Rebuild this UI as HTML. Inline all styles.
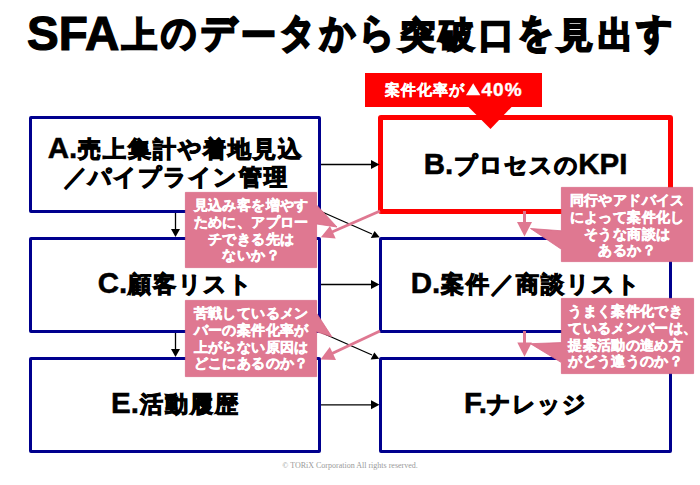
<!DOCTYPE html>
<html lang="ja">
<head>
<meta charset="utf-8">
<style>
html,body{margin:0;padding:0;background:#fff;}
body{width:700px;height:485px;position:relative;overflow:hidden;font-family:"Liberation Sans",sans-serif;color:#000;}
i{font-style:normal;display:inline-block;text-align:center;}
.title{position:absolute;left:27px;top:6px;white-space:nowrap;font-weight:bold;font-size:35px;line-height:56px;-webkit-text-stroke:2.2px #000;}
.title .lat{font-size:47.5px;-webkit-text-stroke:1.2px #000;}
.title i{position:relative;top:-3.5px;}
.title i.k{transform:scaleY(1.12);transform-origin:50% 45px;}
.box{position:absolute;box-sizing:border-box;border:3px solid #00008e;border-radius:2px;background:#fff;}
.boxB{border:5px solid #ff0000;border-radius:3px;}
.lbl{position:absolute;text-align:center;font-weight:bold;font-size:23px;white-space:nowrap;-webkit-text-stroke:1.1px #000;}

.lbl i{position:relative;top:-1.5px;}
.lbl .lat{font-size:29.5px;-webkit-text-stroke:0.5px #000;}
.call{position:absolute;box-sizing:border-box;border:1px solid transparent;color:#fff;font-weight:bold;font-size:14px;line-height:16.6px;text-align:center;white-space:nowrap;padding-top:4.4px;-webkit-text-stroke:0.5px #fff;}
.banner{position:absolute;left:365px;top:73px;width:177px;height:34px;background:#ff0000;color:#fff;font-weight:bold;font-size:15px;line-height:34px;text-align:center;white-space:nowrap;-webkit-text-stroke:0.6px #fff;}
.bant{position:absolute;color:#fff;font-weight:bold;font-size:15px;line-height:34px;white-space:nowrap;-webkit-text-stroke:0.35px #fff;}
.bant .lat{font-size:19px;letter-spacing:1px;-webkit-text-stroke:0.4px #fff;}
.copy{position:absolute;left:0;width:700px;top:461px;text-align:center;font-family:"Liberation Serif",serif;font-size:8px;color:#9a9a9a;white-space:nowrap;}
svg{position:absolute;left:0;top:0;}
</style>
</head>
<body>
<div class="title" id="title"><span class="lat">SFA</span><i style="width:39.7px">上</i><i class="k" style="width:39.7px">の</i><i class="k" style="width:39.7px">デ</i><i style="width:39.7px">ー</i><i class="k" style="width:39.7px">タ</i><i class="k" style="width:39.7px">か</i><i class="k" style="width:39.7px">ら</i><i style="width:39.7px">突</i><i style="width:39.7px">破</i><i style="width:39.7px">口</i><i class="k" style="width:39.7px">を</i><i style="width:39.7px">見</i><i style="width:39.7px">出</i><i class="k" style="width:39.7px">す</i></div>

<div class="box" style="left:29px;top:116px;width:292px;height:97px;"></div>
<div class="box boxB" style="left:378px;top:115px;width:295px;height:99px;"></div>
<div class="box" style="left:29px;top:237px;width:292px;height:96px;"></div>
<div class="box" style="left:379px;top:237px;width:293px;height:96px;"></div>
<div class="box" style="left:29px;top:357px;width:292px;height:96px;"></div>
<div class="box" style="left:379px;top:357px;width:293px;height:96px;"></div>

<div class="lbl" id="la" style="left:29px;width:292px;top:134px;line-height:28px;"><span class="lat">A.</span><i style="width:25px">売</i><i style="width:25px">上</i><i style="width:25px">集</i><i style="width:25px">計</i><i class="k" style="width:25px">や</i><i style="width:25px">着</i><i style="width:25px">地</i><i style="width:25px">見</i><i style="width:25px">込</i><br><i style="width:25px">／</i><i class="k" style="width:25px">パ</i><i class="k" style="width:25px">イ</i><i class="k" style="width:25px">プ</i><i class="k" style="width:25px">ラ</i><i class="k" style="width:25px">イ</i><i class="k" style="width:25px">ン</i><i style="width:25px">管</i><i style="width:25px">理</i></div>
<div class="lbl" id="lb" style="left:378px;width:295px;top:148px;line-height:32px;"><span class="lat">B.</span><i class="k" style="width:25px">プ</i><i class="k" style="width:25px">ロ</i><i class="k" style="width:25px">セ</i><i class="k" style="width:25px">ス</i><i class="k" style="width:25px">の</i><span class="lat">KPI</span></div>
<div class="lbl" id="lc" style="left:29px;width:292px;top:267px;line-height:32px;"><span class="lat">C.</span><i style="width:25px">顧</i><i style="width:25px">客</i><i class="k" style="width:25px">リ</i><i class="k" style="width:25px">ス</i><i class="k" style="width:25px">ト</i></div>
<div class="lbl" id="ld" style="left:379px;width:293px;top:267px;line-height:32px;"><span class="lat">D.</span><i style="width:25px">案</i><i style="width:25px">件</i><i style="width:25px">／</i><i style="width:25px">商</i><i style="width:25px">談</i><i class="k" style="width:25px">リ</i><i class="k" style="width:25px">ス</i><i class="k" style="width:25px">ト</i></div>
<div class="lbl" id="le" style="left:29px;width:292px;top:387px;line-height:32px;"><span class="lat">E.</span><i style="width:25px">活</i><i style="width:25px">動</i><i style="width:25px">履</i><i style="width:25px">歴</i></div>
<div class="lbl" id="lf" style="left:379px;width:293px;top:387px;line-height:32px;"><span class="lat">F.</span><i class="k" style="width:25px">ナ</i><i class="k" style="width:25px">レ</i><i class="k" style="width:25px">ッ</i><i class="k" style="width:25px">ジ</i></div>

<svg width="700" height="485" viewBox="0 0 700 485">
  <g stroke="#000" stroke-width="1.3" fill="none">
    <line x1="321" y1="164.5" x2="372" y2="164.5"/>
    <line x1="321" y1="284.5" x2="372" y2="284.5"/>
    <line x1="321" y1="404.8" x2="372" y2="404.8"/>
    <line x1="175.5" y1="213" x2="175.5" y2="230"/>
    <line x1="175.5" y1="333" x2="175.5" y2="350"/>
    <line x1="320" y1="211" x2="372" y2="234"/>
    <line x1="320" y1="332" x2="372" y2="355"/>
  </g>
  <g fill="#000">
    <polygon points="371,160 379.5,164.5 371,169"/>
    <polygon points="371,280 379.5,284.5 371,289"/>
    <polygon points="371,400.3 379.5,404.8 371,409.3"/>
    <polygon points="171,229 180,229 175.5,237"/>
    <polygon points="171,349 180,349 175.5,357"/>
    <polygon points="370.8,238 374.6,231 379.7,237.3"/>
    <polygon points="370.6,359.4 374.3,352.6 379.2,358.8"/>
  </g>
</svg>

<div class="banner" id="ban"></div>
<svg width="700" height="485" viewBox="0 0 700 485">
  <polygon points="467.5,106 512.5,106 490.5,129" fill="#ff0000"/>
  <polygon points="466,95.2 480.4,95.2 473.2,83.2" fill="#fff"/>
</svg>
<div class="bant" id="bant" style="left:384px;top:73px;"><i style="width:16.2px">案</i><i style="width:16.2px">件</i><i style="width:16.2px">化</i><i style="width:16.2px">率</i><i class="k" style="width:16.2px">が</i></div>
<div class="bant" id="ban40" style="left:481.5px;top:73px;"><span class="lat">40%</span></div>

<svg width="700" height="485" viewBox="0 0 700 485">
  <g stroke="#df7891" stroke-width="3" fill="none">
    <line x1="380" y1="211" x2="332" y2="232"/>
    <line x1="380" y1="331" x2="331" y2="354"/>
    <line x1="524.5" y1="211" x2="524.5" y2="223"/>
    <line x1="524.5" y1="331" x2="524.5" y2="343"/>
  </g>
  <g fill="#df7891">
    <polygon points="330,226 335.7,238.4 320.9,237.3"/>
    <polygon points="329.8,347 336,360 320.5,359.4"/>
    <polygon points="517,222 532,222 524.5,236.5"/>
    <polygon points="517.3,342.5 531.8,342.5 524.5,356.8"/>
  </g>
  <g fill="#df7891" stroke="#d86a86" stroke-width="0.8" stroke-linejoin="miter">
    <path d="M185.4,192.4 H316.6 V205 L337,227 L316.6,224 V267.6 H185.4 Z"/>
    <path d="M185.4,300.4 H316.6 V313.2 L331.9,336.8 L316.6,331.8 V376.6 H185.4 Z"/>
    <path d="M561.4,187.4 H692.6 V261.6 H561.4 V249.3 L530.5,228.5 L561.4,230.8 Z"/>
    <path d="M561.4,298.4 H693.6 V373.6 H561.4 V362.6 L530.4,343.7 L561.4,342.6 Z"/>
  </g>
</svg>

<div class="call" id="c1" style="left:185px;top:192px;width:132px;height:76px;"><i style="width:14.35px">見</i><i style="width:14.35px">込</i><i class="k" style="width:14.35px">み</i><i style="width:14.35px">客</i><i class="k" style="width:14.35px">を</i><i style="width:14.35px">増</i><i class="k" style="width:14.35px">や</i><i class="k" style="width:14.35px">す</i><br><i class="k" style="width:14.35px">た</i><i class="k" style="width:14.35px">め</i><i class="k" style="width:14.35px">に</i><i style="width:14.35px">、</i><i class="k" style="width:14.35px">ア</i><i class="k" style="width:14.35px">プ</i><i class="k" style="width:14.35px">ロ</i><i style="width:14.35px">ー</i><br><i class="k" style="width:14.35px">チ</i><i class="k" style="width:14.35px">で</i><i class="k" style="width:14.35px">き</i><i class="k" style="width:14.35px">る</i><i style="width:14.35px">先</i><i class="k" style="width:14.35px">は</i><br><i class="k" style="width:14.35px">な</i><i class="k" style="width:14.35px">い</i><i class="k" style="width:14.35px">か</i><i style="width:14.35px">？</i></div>
<div class="call" id="c2" style="left:185px;top:300px;width:132px;height:77px;"><i style="width:14.35px">苦</i><i style="width:14.35px">戦</i><i class="k" style="width:14.35px">し</i><i class="k" style="width:14.35px">て</i><i class="k" style="width:14.35px">い</i><i class="k" style="width:14.35px">る</i><i class="k" style="width:14.35px">メ</i><i class="k" style="width:14.35px">ン</i><br><i class="k" style="width:14.35px">バ</i><i style="width:14.35px">ー</i><i class="k" style="width:14.35px">の</i><i style="width:14.35px">案</i><i style="width:14.35px">件</i><i style="width:14.35px">化</i><i style="width:14.35px">率</i><i class="k" style="width:14.35px">が</i><br><i style="width:14.35px">上</i><i class="k" style="width:14.35px">が</i><i class="k" style="width:14.35px">ら</i><i class="k" style="width:14.35px">な</i><i class="k" style="width:14.35px">い</i><i style="width:14.35px">原</i><i style="width:14.35px">因</i><i class="k" style="width:14.35px">は</i><br><i class="k" style="width:14.35px">ど</i><i class="k" style="width:14.35px">こ</i><i class="k" style="width:14.35px">に</i><i class="k" style="width:14.35px">あ</i><i class="k" style="width:14.35px">る</i><i class="k" style="width:14.35px">の</i><i class="k" style="width:14.35px">か</i><i style="width:14.35px">？</i></div>
<div class="call" id="c3" style="left:561px;top:187px;width:132px;height:75px;"><i style="width:14.35px">同</i><i style="width:14.35px">行</i><i class="k" style="width:14.35px">や</i><i class="k" style="width:14.35px">ア</i><i class="k" style="width:14.35px">ド</i><i class="k" style="width:14.35px">バ</i><i class="k" style="width:14.35px">イ</i><i class="k" style="width:14.35px">ス</i><br><i class="k" style="width:14.35px">に</i><i class="k" style="width:14.35px">よ</i><i class="k" style="width:14.35px">っ</i><i class="k" style="width:14.35px">て</i><i style="width:14.35px">案</i><i style="width:14.35px">件</i><i style="width:14.35px">化</i><i class="k" style="width:14.35px">し</i><br><i class="k" style="width:14.35px">そ</i><i class="k" style="width:14.35px">う</i><i class="k" style="width:14.35px">な</i><i style="width:14.35px">商</i><i style="width:14.35px">談</i><i class="k" style="width:14.35px">は</i><br><i class="k" style="width:14.35px">あ</i><i class="k" style="width:14.35px">る</i><i class="k" style="width:14.35px">か</i><i style="width:14.35px">？</i></div>
<div class="call" id="c4" style="left:561px;top:298px;width:133px;height:76px;text-align:left;padding-left:6px;"><i class="k" style="width:14.35px">う</i><i class="k" style="width:14.35px">ま</i><i class="k" style="width:14.35px">く</i><i style="width:14.35px">案</i><i style="width:14.35px">件</i><i style="width:14.35px">化</i><i class="k" style="width:14.35px">で</i><i class="k" style="width:14.35px">き</i><br><i class="k" style="width:14.35px">て</i><i class="k" style="width:14.35px">い</i><i class="k" style="width:14.35px">る</i><i class="k" style="width:14.35px">メ</i><i class="k" style="width:14.35px">ン</i><i class="k" style="width:14.35px">バ</i><i style="width:14.35px">ー</i><i class="k" style="width:14.35px">は</i><i style="width:14.35px">、</i><br><i style="width:14.35px">提</i><i style="width:14.35px">案</i><i style="width:14.35px">活</i><i style="width:14.35px">動</i><i class="k" style="width:14.35px">の</i><i style="width:14.35px">進</i><i class="k" style="width:14.35px">め</i><i style="width:14.35px">方</i><br><i class="k" style="width:14.35px">が</i><i class="k" style="width:14.35px">ど</i><i class="k" style="width:14.35px">う</i><i style="width:14.35px">違</i><i class="k" style="width:14.35px">う</i><i class="k" style="width:14.35px">の</i><i class="k" style="width:14.35px">か</i><i style="width:14.35px">？</i></div>

<div class="copy">© TORiX Corporation All rights reserved.</div>
</body>
</html>
